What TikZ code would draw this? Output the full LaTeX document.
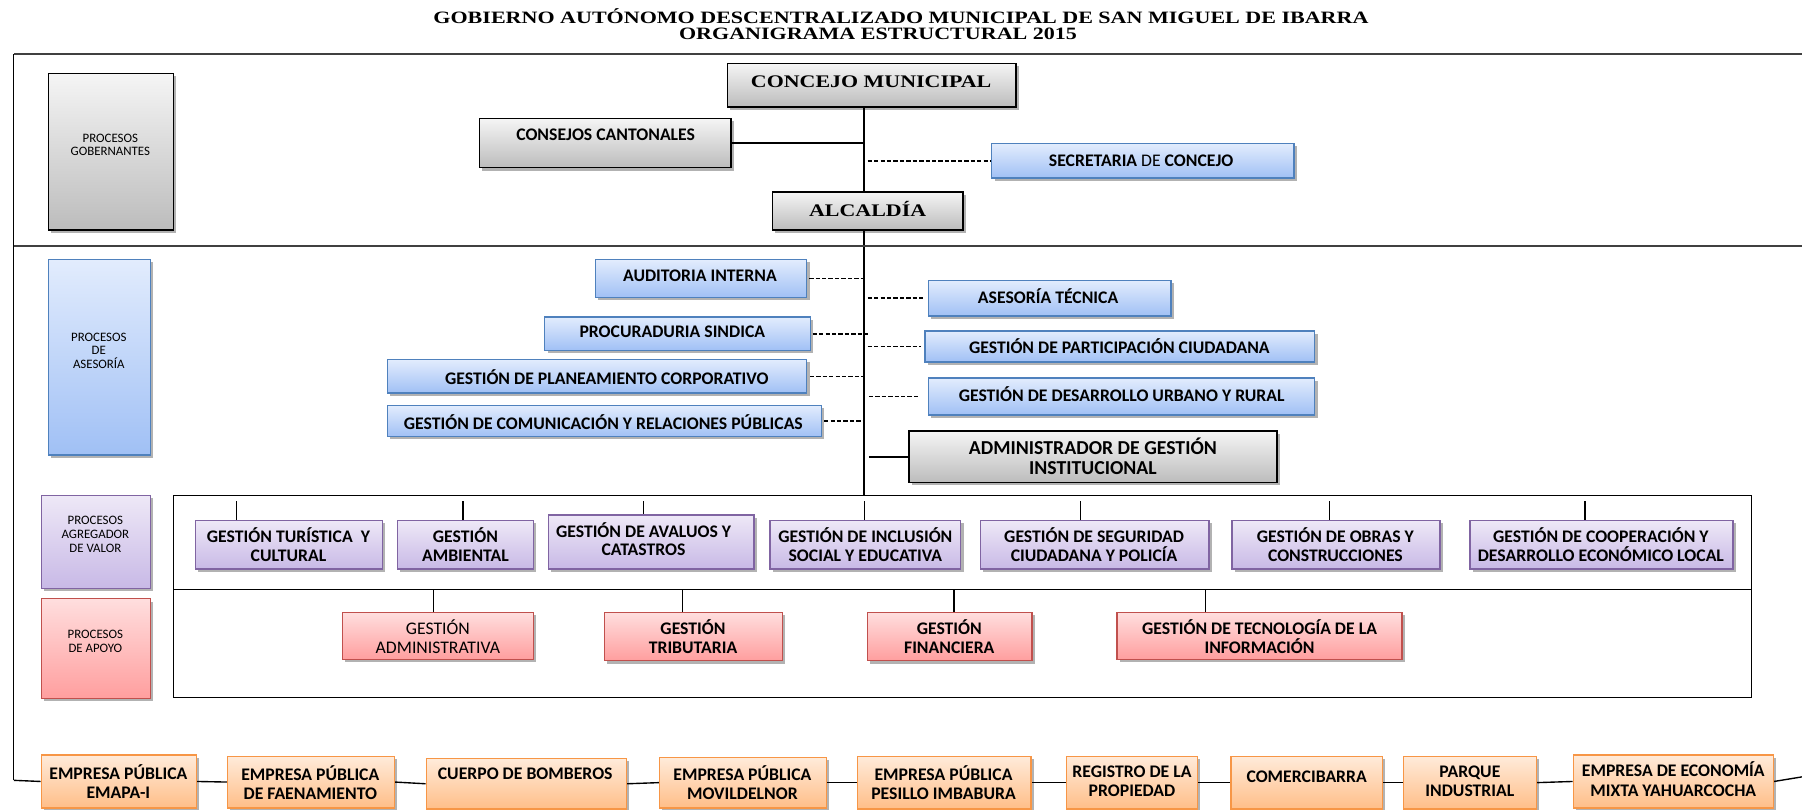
\documentclass[tikz,border=0pt]{standalone}
\usepackage{fontspec}
\setmainfont{Carlito}
\newfontfamily\tnr{Liberation Serif}
\usetikzlibrary{shadows,fit,shadings,backgrounds}
\definecolor{gtop}{RGB}{245,245,245}
\definecolor{gbot}{RGB}{188,188,188}
\definecolor{btop}{RGB}{226,236,253}
\definecolor{bbot}{RGB}{160,192,245}
\definecolor{bdr}{RGB}{79,129,189}
\definecolor{ptop}{RGB}{238,232,247}
\definecolor{pbot}{RGB}{200,185,230}
\definecolor{pdr}{RGB}{128,100,162}
\definecolor{rtop}{RGB}{255,222,222}
\definecolor{rbot}{RGB}{255,158,158}
\definecolor{rdr}{RGB}{192,80,77}
\definecolor{otop}{RGB}{255,235,218}
\definecolor{obot}{RGB}{255,190,136}
\definecolor{odr}{RGB}{247,150,70}
\newcommand\ttl[1]{\scalebox{1.24}[1]{\tnr\bfseries\fontsize{7.7}{8}\selectfont #1}}
\newcommand\bx[9]{%
  \node[#2, fit={(#4,#5) (#6,#7)}] (#1) {};
  \node[#3] (#1t) at #8 {#9};
}
\tikzset{
  base/.style={rectangle, inner sep=0pt, line width=0.6pt,
    drop shadow={shadow xshift=1.2pt, shadow yshift=-1.2pt, fill=black, opacity=0.3}},
  gbox/.style={base, draw=black, top color=gtop, bottom color=gbot},
  bbox/.style={base, draw=bdr, top color=btop, bottom color=bbot},
  pbox/.style={base, draw=pdr, top color=ptop, bottom color=pbot},
  rbox/.style={base, draw=rdr, top color=rtop, bottom color=rbot},
  obox/.style={base, draw=odr, top color=otop, bottom color=obot},
  btxt/.style={inner sep=0pt, align=center, font=\fontsize{7.7}{8.1}\selectfont\bfseries},
  otxt/.style={inner sep=0pt, align=center, font=\fontsize{7.7}{8.5}\selectfont\bfseries},
  atxt/.style={inner sep=0pt, align=center, font=\fontsize{8.6}{9}\selectfont\bfseries},
  rtxt/.style={inner sep=0pt, align=center, font=\fontsize{7.7}{8.1}\selectfont},
  stxt/.style={inner sep=0pt, align=center, font=\fontsize{5.6}{5.9}\selectfont},
  plain/.style={inner sep=0pt},
  ln/.style={line width=0.6pt},
  dsh/.style={line width=0.7pt, dash pattern=on 1.9pt off 0.9pt},
}
\begin{document}
\begin{tikzpicture}[x=0.5pt,y=-0.5pt]
\useasboundingbox (0,0) rectangle (1568,704);
% title
\node[plain] (title1) at (784,14) {\scalebox{1.27}[1]{\tnr\bfseries\fontsize{7.55}{8}\selectfont GOBIERNO AUTÓNOMO DESCENTRALIZADO MUNICIPAL DE SAN MIGUEL DE IBARRA}};
\node[plain] (title2) at (764,29) {\scalebox{1.27}[1]{\tnr\bfseries\fontsize{7.55}{8}\selectfont ORGANIGRAMA ESTRUCTURAL 2015}};
% outer frame
\coordinate (ftl) at (12,47);
\coordinate (ftr) at (1568,47);
\coordinate (fbl) at (12,679);
\coordinate (fbr) at (1568,676);
\coordinate (dl) at (12,214);
\coordinate (dr) at (1568,214);
\draw[line width=1pt, black!75] (ftl) -- (ftr);
\draw[line width=1pt, black!75] (dl) -- (dr);
\draw[ln] (ftl) -- (fbl);
% process frame
\node[draw, line width=0.6pt, inner sep=0pt, fit={(151,431) (1524,607)}] (pf) {};
\coordinate (pdl) at (151,513);
\coordinate (pdr) at (1524,513);
\draw[ln] (pdl) -- (pdr);
% left column
\bx{gob}{gbox}{stxt}{42}{64}{151}{200}{(96,126)}{PROCESOS\\GOBERNANTES}
\bx{asl}{bbox}{stxt}{42}{226}{131}{396}{(86,305)}{PROCESOS\\DE\\ASESORÍA}
\bx{agl}{pbox}{stxt}{36}{431}{131}{512}{(83,465)}{PROCESOS\\AGREGADOR\\DE VALOR}
\bx{apl}{rbox}{stxt}{36}{521}{131}{608}{(83,558)}{PROCESOS\\DE APOYO}
% governing
\bx{conc}{gbox}{plain}{633}{55}{884}{93}{(758,71)}{\ttl{CONCEJO MUNICIPAL}}
\bx{cant}{gbox}{btxt}{417}{103}{636}{146}{(527,117)}{CONSEJOS CANTONALES}
\bx{sec}{bbox}{btxt}{863}{125}{1126}{155}{(993,140)}{SECRETARIA {\mdseries DE} CONCEJO}
\bx{alc}{gbox}{plain}{672}{167}{838}{200}{(755,182)}{\ttl{ALCALDÍA}}
% advisory
\bx{aud}{bbox}{btxt}{518}{226}{702}{259}{(609,240)}{AUDITORIA INTERNA}
\bx{ase}{bbox}{btxt}{808}{244}{1019}{275}{(912,258)}{ASESORÍA TÉCNICA}
\bx{proc}{bbox}{btxt}{474}{276}{705}{305}{(585,289)}{PROCURADURIA SINDICA}
\bx{par}{bbox}{btxt}{805}{288}{1144}{315}{(974,301)}{GESTIÓN DE PARTICIPACIÓN CIUDADANA}
\bx{plan}{bbox}{btxt}{337}{313}{702}{342}{(528,328)}{GESTIÓN DE PLANEAMIENTO CORPORATIVO}
\bx{des}{bbox}{btxt}{808}{329}{1144}{361}{(976,343)}{GESTIÓN DE DESARROLLO URBANO Y RURAL}
\bx{com}{bbox}{btxt}{337}{353}{715}{380}{(525,367)}{GESTIÓN DE COMUNICACIÓN Y RELACIONES PÚBLICAS}
\bx{adm}{gbox}{atxt}{791}{375}{1111}{420}{(951,397)}{ADMINISTRADOR DE GESTIÓN\\INSTITUCIONAL}
% value adding
\bx{p1}{pbox}{btxt}{170}{453}{333}{495}{(251,474)}{GESTIÓN TURÍSTICA\ \ Y\\CULTURAL}
\bx{p2}{pbox}{btxt}{346}{453}{464}{495}{(405,474)}{GESTIÓN\\AMBIENTAL}
\bx{p3}{pbox}{btxt}{477}{448}{656}{495}{(560,469)}{GESTIÓN DE AVALUOS Y\\CATASTROS}
\bx{p4}{pbox}{btxt}{670}{453}{836}{495}{(753,474)}{GESTIÓN DE INCLUSIÓN\\SOCIAL Y EDUCATIVA}
\bx{p5}{pbox}{btxt}{853}{453}{1052}{495}{(952,474)}{GESTIÓN DE SEGURIDAD\\CIUDADANA Y POLICÍA}
\bx{p6}{pbox}{btxt}{1072}{453}{1253}{495}{(1162,474)}{GESTIÓN DE OBRAS Y\\CONSTRUCCIONES}
\bx{p7}{pbox}{btxt}{1279}{453}{1508}{495}{(1393,474)}{GESTIÓN DE COOPERACIÓN Y\\DESARROLLO ECONÓMICO LOCAL}
% support
\bx{r1}{rbox}{rtxt}{298}{533}{464}{574}{(381,554)}{GESTIÓN\\ADMINISTRATIVA}
\bx{r2}{rbox}{btxt}{526}{533}{681}{575}{(603,554)}{GESTIÓN\\TRIBUTARIA}
\bx{r3}{rbox}{btxt}{755}{533}{898}{575}{(826,554)}{GESTIÓN\\FINANCIERA}
\bx{r4}{rbox}{btxt}{972}{533}{1220}{574}{(1096,554)}{GESTIÓN DE TECNOLOGÍA DE LA\\INFORMACIÓN}
% companies
\bx{e1}{obox}{otxt}{36}{657}{171}{703}{(103,680)}{EMPRESA PÚBLICA\\EMAPA-I}
\bx{e2}{obox}{otxt}{198}{658}{343}{703}{(270,681)}{EMPRESA PÚBLICA\\DE FAENAMIENTO}
\bx{e3}{obox}{otxt}{371}{660}{545}{704}{(457,673)}{CUERPO DE BOMBEROS}
\bx{e4}{obox}{otxt}{574}{659}{719}{703}{(646,681)}{EMPRESA PÚBLICA\\MOVILDELNOR}
\bx{e5}{obox}{otxt}{746}{658}{897}{704}{(821,681)}{EMPRESA PÚBLICA\\PESILLO IMBABURA}
\bx{e6}{obox}{otxt}{928}{658}{1042}{704}{(985,680)}{REGISTRO DE LA\\PROPIEDAD}
\bx{e7}{obox}{otxt}{1071}{658}{1203}{704}{(1137,676)}{COMERCIBARRA}
\bx{e8}{obox}{otxt}{1221}{658}{1337}{704}{(1279,680)}{PARQUE\\INDUSTRIAL}
\bx{e9}{obox}{otxt}{1369}{657}{1543}{703}{(1456,678)}{EMPRESA DE ECONOMÍA\\MIXTA YAHUARCOCHA}
\begin{scope}[on background layer]
% main spine
\coordinate (vt) at (752,93);
\coordinate (vb) at (752,431);
\draw[line width=0.9pt] (vt) -- (vb);
\draw[ln] (cant.east) -- (cant.east -| vt);
\draw[dsh, shorten <=1.5pt] (vt |- sec.west) -- (sec.west);
\draw[dsh] (aud.east) ++(1.5,0) -- (aud.east -| vt);
\draw[dsh] (proc.east) ++(1.5,0) -- ([xshift=2pt]proc.east -| vt);
\draw[dsh] (plan.east) ++(2,0) -- (plan.east -| vt);
\draw[dsh] (com.east) ++(1.5,0) -- (com.east -| vt);
\draw[dsh, shorten <=1.5pt, shorten >=2pt] (vt |- ase.west) -- (ase.west);
\draw[dsh, shorten <=1.5pt, shorten >=1.5pt] (vt |- par.west) -- (par.west);
\draw[dsh, shorten <=2pt, shorten >=4pt] (vt |- des.west) -- (des.west);
\draw[ln, shorten <=2pt] (vt |- adm.west) -- (adm.west);
% ticks
\foreach \x/\n in {206/p1,403/p2,560/p3,752/p4,940/p5,1157/p6,1379/p7}
  \draw[ln] (\x,436) -- (\x,0 |- \n.north);
\foreach \x/\n in {377/r1,594/r2,830/r3,1049/r4}
  \draw[ln] (\x,513) -- (\x,0 |- \n.north);
% companies chain
\draw[ln] (fbl) -- (e1.west);
\foreach \a/\b in {e1/e2,e2/e3,e3/e4,e4/e5,e5/e6,e6/e7,e7/e8,e8/e9}
  \draw[ln] (\a.east) -- (\b.west);
\draw[ln] (e9.east) -- (fbr);
\end{scope}
\end{tikzpicture}
\end{document}
